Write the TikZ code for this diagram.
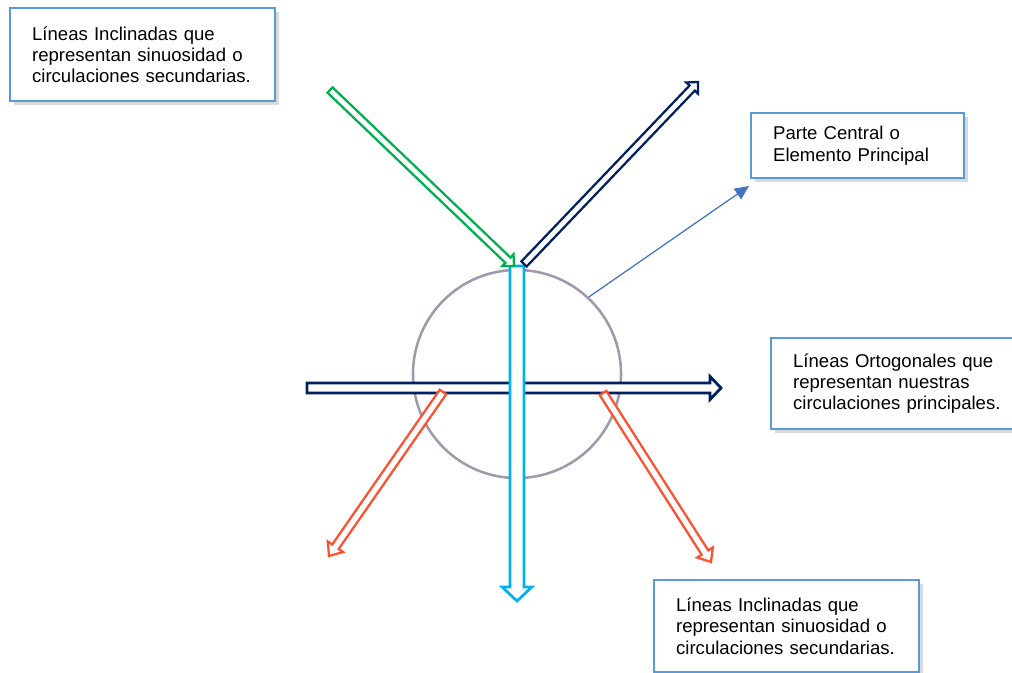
\documentclass[tikz,border=0pt]{standalone}
\usepackage{fontspec}
\setmainfont{Liberation Sans}
\usetikzlibrary{arrows.meta,calc,shadows}
\definecolor{Flow_green}{RGB}{0,176,80}
\definecolor{Flow_navy}{RGB}{0,32,96}
\definecolor{Flow_cyan}{RGB}{0,176,240}
\definecolor{Flow_red}{RGB}{255,80,50}
\definecolor{Ring_grey}{RGB}{162,152,172}
\definecolor{Note_border}{RGB}{91,155,213}
\definecolor{Pointer_blue}{RGB}{68,114,196}

\tikzset{
  notebox/.style={draw=Note_border, line width=1.6pt, fill=white, anchor=north west,
    align=left, inner xsep=0.55cm, inner ysep=0pt,
    font=\fontsize{13.2}{15.2}\selectfont,
    drop shadow={shadow xshift=2.5pt, shadow yshift=-3pt, opacity=0.3}},
  flow/.style={fill=white, line join=miter, line width=#1},
}

% block arrow: style, tail, tip, half shaft, half head, head length
\newcommand{\blockarrow}[6]{%
  \coordinate (ba) at ($(#3)!#6!(#2)$);
  \draw[#1] ($(#2)!#4!90:(#3)$) -- ($(ba)!#4!90:(#3)$) -- ($(ba)!#5!90:(#3)$) -- (#3)
    -- ($(ba)!#5!-90:(#3)$) -- ($(ba)!#4!-90:(#3)$) -- ($(#2)!#4!-90:(#3)$) -- cycle;}

\begin{document}
\begin{tikzpicture}[x=0.025cm, y=-0.025cm]
    \useasboundingbox (0,0) rectangle (1012,672);
    \clip (0,0) rectangle (1012,672);

    %% Central element
    \node[draw=Ring_grey, line width=1.8pt, circle, minimum size=5.2cm, inner sep=0pt] (centro) at (517,374) {};

    %% Flow end points
    \coordinate (ortoA) at (307,388);
    \coordinate (ortoB) at (721,388);
    \coordinate (vertA) at (517,266);
    \coordinate (vertB) at (517,601);
    \coordinate (rojoIA) at (443,392);
    \coordinate (rojoIB) at (329,556);
    \coordinate (rojoDA) at (603,393);
    \coordinate (rojoDB) at (711,562);
    \coordinate (verdeA) at (330,90);
    \coordinate (verdeB) at (514,266);
    \coordinate (azulA) at (524,264);
    \coordinate (azulB) at (698,82);

    %% Orthogonal circulations
    \blockarrow{Flow_navy, flow=2pt}{ortoA}{ortoB}{3.6pt}{8.2pt}{7.8pt}

    %% Inclined circulations
    \blockarrow{Flow_red, flow=1.6pt}{rojoIA}{rojoIB}{2.8pt}{6.6pt}{8pt}
    \blockarrow{Flow_red, flow=1.6pt}{rojoDA}{rojoDB}{2.8pt}{6.6pt}{8pt}
    \blockarrow{Flow_cyan, flow=1.9pt}{vertA}{vertB}{5pt}{10.6pt}{10pt}
    \blockarrow{Flow_green, flow=1.6pt}{verdeA}{verdeB}{2.6pt}{5.8pt}{6pt}
    \blockarrow{Flow_navy, flow=1.6pt}{azulA}{azulB}{2.6pt}{5.8pt}{6pt}

    %% Notes
    \node[notebox, minimum width=6.625cm, minimum height=2.325cm, text width=5.525cm] (notaSup) at (9,7)
      {Líneas Inclinadas que\\representan sinuosidad o\\circulaciones secundarias.};
    \node[notebox, minimum width=5.325cm, minimum height=1.625cm, text width=4.225cm] (notaCentro) at (750,112)
      {Parte Central o\\Elemento Principal};
    \node[notebox, minimum width=6.625cm, minimum height=2.275cm, text width=5.525cm] (notaOrto) at (770,337)
      {Líneas Ortogonales que\\representan nuestras\\circulaciones principales.};
    \node[notebox, minimum width=6.625cm, minimum height=2.3cm, text width=5.525cm] (notaInf) at (653,579)
      {Líneas Inclinadas que\\representan sinuosidad o\\circulaciones secundarias.};

    %% Pointer to the central element
    \coordinate (flecha) at (749,186);
    \draw[Pointer_blue, line width=0.9pt, -{Triangle[length=10pt,width=9pt]}] (centro.47) -- (flecha);

\end{tikzpicture}
\end{document}
